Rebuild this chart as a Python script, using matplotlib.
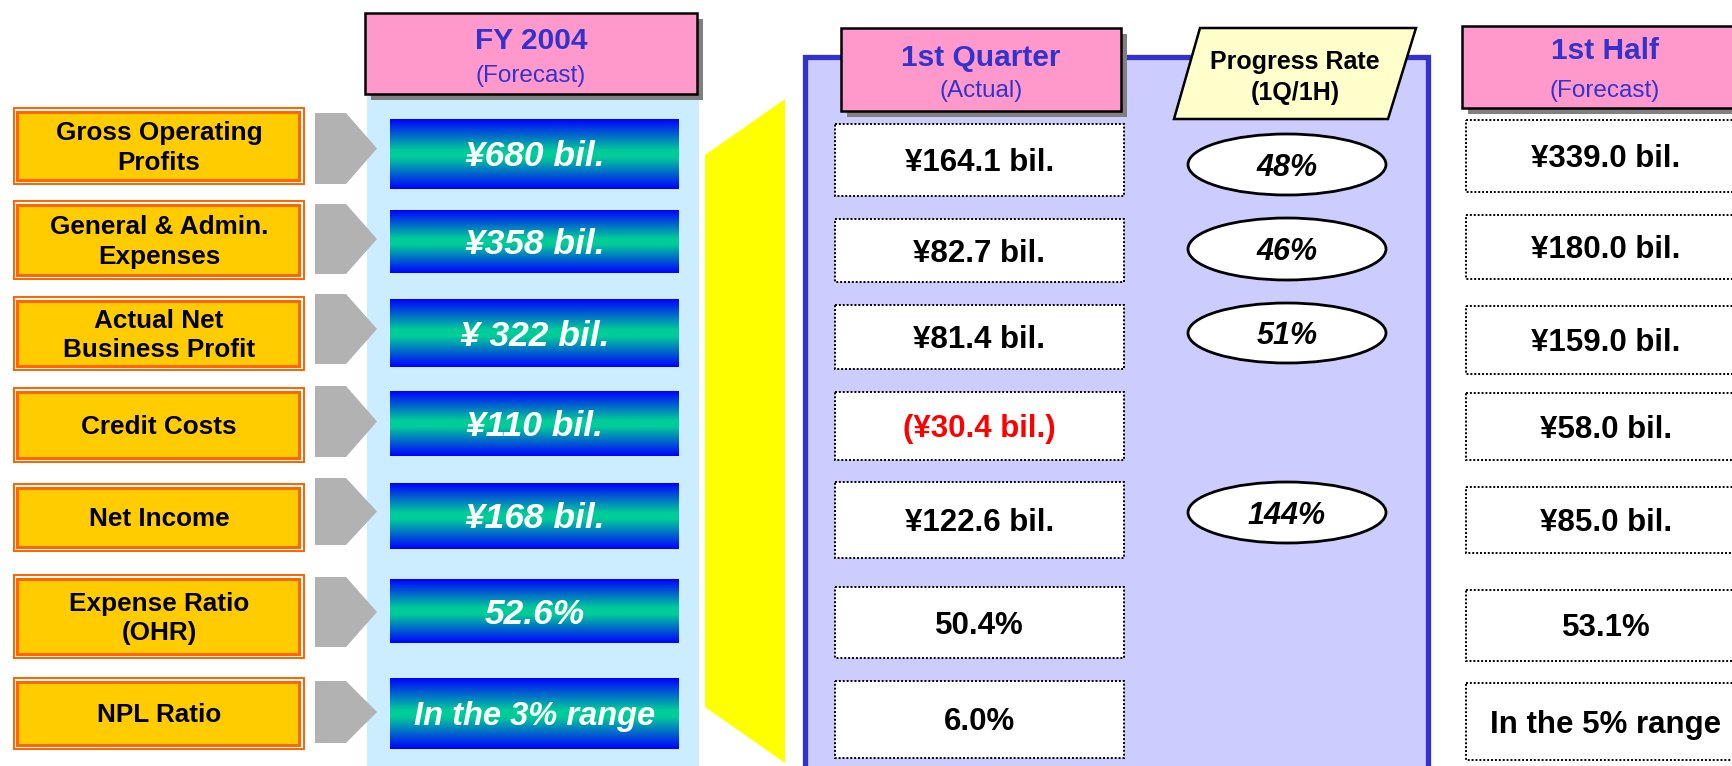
import matplotlib.pyplot as plt
import numpy as np
from matplotlib.patches import Rectangle, Ellipse, Polygon
from matplotlib.colors import LinearSegmentedColormap

plt.rcParams['font.family'] = ['Liberation Sans', 'DejaVu Sans']

# data
labels = ["Gross Operating\nProfits", "General & Admin.\nExpenses", "Actual Net\nBusiness Profit",
          "Credit Costs", "Net Income", "Expense Ratio\n(OHR)", "NPL Ratio"]
fy2004_forecast = ["¥680 bil.", "¥358 bil.", "¥ 322 bil.", "¥110 bil.", "¥168 bil.", "52.6%", "In the 3% range"]
q1_actual = ["¥164.1 bil.", "¥82.7 bil.", "¥81.4 bil.", "(¥30.4 bil.)", "¥122.6 bil.", "50.4%", "6.0%"]
q1_negative = [False, False, False, True, False, False, False]
progress_rate = ["48%", "46%", "51%", "", "144%", "", ""]
h1_forecast = ["¥339.0 bil.", "¥180.0 bil.", "¥159.0 bil.", "¥58.0 bil.", "¥85.0 bil.", "53.1%", "In the 5% range"]

# layout (pixel rows, top/bottom)
label_rows = [(107, 185), (200, 280), (296, 371), (387, 463), (483, 552), (574, 659), (677, 750)]
arrow_rows = [(113, 184), (204, 274), (294, 364), (386, 457), (478, 545), (577, 647), (681, 743)]
grad_rows = [(119, 189), (210, 273), (299, 367), (391, 456), (483, 549), (579, 643), (678, 749)]
q1_rows = [(124, 196), (219, 282), (305, 369), (392, 460), (482, 558), (587, 658), (681, 758)]
ell_rows = [(134, 195), (218, 280), (303, 363), None, (482, 543), None, None]
h1_rows = [(120, 192), (215, 279), (306, 374), (393, 460), (487, 553), (590, 661), (683, 760)]

W, H = 1733, 766
fig = plt.figure(figsize=(W / 100, H / 100), dpi=100)
ax = fig.add_axes([0, 0, 1, 1])

hdr_blue = '#3333CC'
grad_cmap = LinearSegmentedColormap.from_list(
    'bt', [(0, '#0000FF'), (0.45, '#00CC99'), (0.55, '#00CC99'), (1, '#0000FF')])
grad = np.linspace(0, 1, 256).reshape(-1, 1)
dy = 3  # nudge text down to match visual centring

# backgrounds
ax.add_patch(Rectangle((367, 60), 332, 800, fc='#CCECFF', ec='none', zorder=1))
ax.add_patch(Rectangle((805, 57), 623, 800, fc='#CCCCFF', ec=hdr_blue, lw=3.8, zorder=1))
ax.add_patch(Polygon([(705, 155), (785, 99), (785, 763), (705, 707)], closed=True,
                     fc='#FFFF00', ec='none', zorder=1))


def header(x0, y0, x1, y1, title, sub, cx, ty, sy):
    ax.add_patch(Rectangle((x0 + 6, y0 + 6), x1 - x0, y1 - y0, fc='#808080', ec='none', zorder=3))
    ax.add_patch(Rectangle((x0, y0), x1 - x0, y1 - y0, fc='#FF99CC', ec='black', lw=1.8, zorder=4))
    ax.text(cx, ty + dy, title, ha='center', va='center', fontsize=21.5, fontweight='bold',
            color=hdr_blue, zorder=5)
    ax.text(cx, sy + 1, sub, ha='center', va='center', fontsize=17.5, color=hdr_blue, zorder=5)


header(365, 13, 697, 94, "FY 2004", "(Forecast)", 531, 38, 75)
header(841, 28, 1121, 111, "1st Quarter", "(Actual)", 981, 55, 90)
header(1462, 26, 1760, 108, "1st Half", "(Forecast)", 1605, 48, 90)

# progress rate parallelogram
ax.add_patch(Polygon([(1174, 119), (1200, 28), (1416, 28), (1388, 119)], closed=True,
                     fc='#FFFFCC', ec='black', lw=1.8, zorder=4))
ax.text(1295, 62, "Progress Rate", ha='center', va='center', fontsize=18, fontweight='bold', zorder=5)
ax.text(1295, 93, "(1Q/1H)", ha='center', va='center', fontsize=18, fontweight='bold', zorder=5)

for i in range(len(labels)):
    # left label box with double orange border
    t, b = label_rows[i]
    x0, x1 = 13, 305
    for inset, col in [(0, '#FF6600'), (2, 'white'), (3.5, '#FF6600'), (6.5, '#FFCC00')]:
        ax.add_patch(Rectangle((x0 + inset, t + inset), x1 - x0 - 2 * inset, b - t - 2 * inset,
                               fc=col, ec='none', zorder=3))
    ax.text((x0 + x1) / 2, (t + b) / 2 + 2, labels[i], ha='center', va='center', fontsize=18.8,
            fontweight='bold', linespacing=1.28, zorder=5)

    # gray arrow
    t, b = arrow_rows[i]
    ax.add_patch(Polygon([(315, t), (346, t), (377, (t + b) / 2), (346, b), (315, b)], closed=True,
                         fc='#B2B2B2', ec='none', zorder=3))

    # gradient forecast box
    t, b = grad_rows[i]
    ax.imshow(grad, extent=(390, 679, b, t), cmap=grad_cmap, aspect='auto', zorder=3,
              interpolation='bilinear')
    ax.text(534.5, (t + b) / 2 + dy, fy2004_forecast[i], ha='center', va='center',
            fontsize=23.5 if i == 6 else 25.5, fontweight='bold', fontstyle='italic',
            color='white', zorder=5)

    # 1st quarter actual
    t, b = q1_rows[i]
    ax.add_patch(Rectangle((835, t), 289, b - t, fc='white', ec='black', lw=1.4,
                           ls=(0, (1, 1)), zorder=3))
    ax.text(979.5, (t + b) / 2 + dy, q1_actual[i], ha='center', va='center', fontsize=22.5,
            fontweight='bold', color='#FF0000' if q1_negative[i] else 'black', zorder=5)

    # progress rate ellipse
    if progress_rate[i]:
        t, b = ell_rows[i]
        ax.add_patch(Ellipse((1287, (t + b) / 2), 198, b - t, fc='white', ec='black', lw=2, zorder=3))
        ax.text(1287, (t + b) / 2 + dy, progress_rate[i], ha='center', va='center', fontsize=22,
                fontweight='bold', fontstyle='italic', zorder=5)

    # 1st half forecast
    t, b = h1_rows[i]
    ax.add_patch(Rectangle((1466, t), 290, b - t, fc='white', ec='black', lw=1.4,
                           ls=(0, (1, 1)), zorder=3))
    ax.text(1606, (t + b) / 2 + dy, h1_forecast[i], ha='center', va='center', fontsize=22.5,
            fontweight='bold', zorder=5)

ax.set_xlim(0, W)
ax.set_ylim(H, 0)
ax.axis('off')
fig.savefig('out.png', dpi=100, facecolor='white')
